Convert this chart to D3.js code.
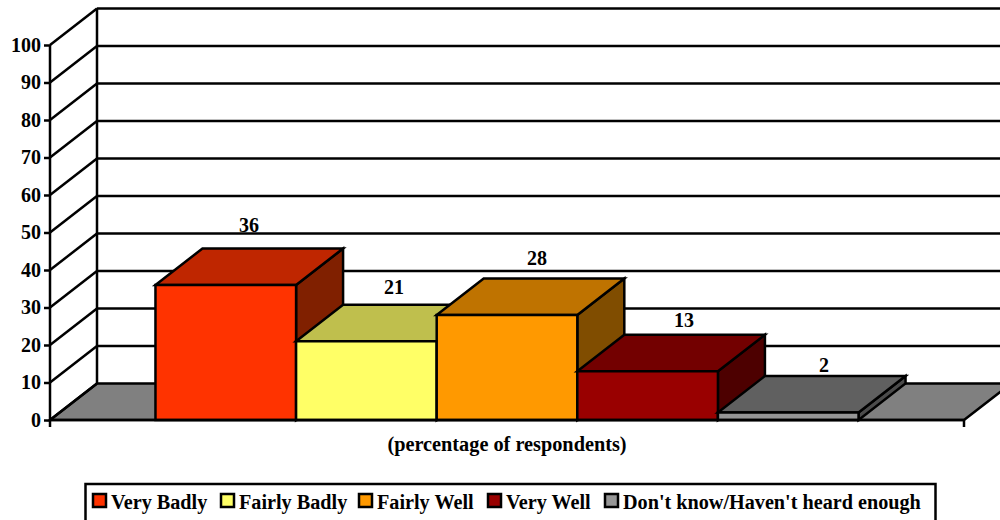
<!DOCTYPE html>
<html>
<head>
<meta charset="utf-8">
<script src="https://cdn.jsdelivr.net/npm/d3@7"></script>
<style>
  html, body { margin: 0; padding: 0; background: #fff; overflow: hidden; }
  svg { display: block; }
  text { font-family: "Liberation Serif", serif; font-weight: bold; fill: #000; }
</style>
</head>
<body>
<div id="chart"></div>
<script>
const categories = ["Very Badly", "Fairly Badly", "Fairly Well", "Very Well", "Don't know/Haven't heard enough"];
const values = [36, 21, 28, 13, 2];
const yTicks = [0, 10, 20, 30, 40, 50, 60, 70, 80, 90, 100];
const frontColors = ["#ff3300", "#ffff66", "#ff9900", "#990000", "#969696"];
const topColors = ["#bf2600", "#bfbf4d", "#bf7300", "#730000", "#606060"];
const sideColors = ["#802000", "#808033", "#804d00", "#4d0000", "#4b4b4b"];
const axisTitle = "(percentage of respondents)";

const svg = d3.select("#chart").append("svg").attr("width", 1000).attr("height", 520);

const depthX = 47, depthY = -36.5, lineW = 2.5;
const x = d3.scaleBand().domain(categories).range([50, 964]).paddingInner(0).paddingOuter(0.75);
const y = d3.scaleLinear().domain([0, 100]).range([420, 45]);
// the value labels sit on their own slightly wider grid than the bars
const labelX = d3.scalePoint().domain(categories).range([249, 825]);
const labelNudge = [0, 1, 0, 3, -1];
const labelY = d3.scaleLinear().domain([2, 36]).range([372, 232]);

const poly = pts => pts.map(p => p.join(",")).join(" ");

// floor
svg.append("polygon")
    .attr("points", poly([[x.range()[0], y(0)], [x.range()[0] + depthX, y(0) + depthY],
      [x.range()[1] + depthX, y(0) + depthY], [x.range()[1], y(0)]]))
    .attr("fill", "#808080").attr("stroke", "#000").attr("stroke-width", lineW);

// back wall grid and the slanted lines on the side wall
const grid = svg.append("g").attr("fill", "none").attr("stroke", "#000").attr("stroke-width", lineW);
yTicks.forEach(t => {
  if (t > 0) grid.append("line")
      .attr("x1", x.range()[0] + depthX).attr("x2", x.range()[1] + depthX)
      .attr("y1", y(t) + depthY).attr("y2", y(t) + depthY);
  grid.append("line")
      .attr("x1", x.range()[0]).attr("x2", x.range()[0] + depthX)
      .attr("y1", y(t)).attr("y2", y(t) + depthY);
});
grid.append("line")
    .attr("x1", x.range()[0] + depthX).attr("x2", x.range()[0] + depthX)
    .attr("y1", y(100) + depthY).attr("y2", y(0) + depthY);

// bars, left to right so each one overlaps the side of the previous
const bars = svg.selectAll("g.bar").data(categories).enter().append("g")
    .attr("class", "bar")
    .attr("stroke", "#000").attr("stroke-width", lineW).attr("stroke-linejoin", "miter");

bars.each(function(d, i) {
  const g = d3.select(this);
  const x0 = x(d), x1 = x(d) + x.bandwidth(), yt = y(values[i]), yb = y(0);
  g.append("polygon").attr("fill", sideColors[i])
      .attr("points", poly([[x1, yb], [x1 + depthX, yb + depthY], [x1 + depthX, yt + depthY], [x1, yt]]));
  g.append("polygon").attr("fill", topColors[i])
      .attr("points", poly([[x0, yt], [x0 + depthX, yt + depthY], [x1 + depthX, yt + depthY], [x1, yt]]));
  g.append("rect").attr("fill", frontColors[i])
      .attr("x", x0).attr("y", yt).attr("width", x1 - x0).attr("height", yb - yt);
});

// value labels
svg.selectAll("text.value").data(categories).enter().append("text")
    .attr("class", "value")
    .attr("x", (d, i) => labelX(d) + labelNudge[i])
    .attr("y", (d, i) => labelY(values[i]))
    .attr("text-anchor", "middle")
    .attr("font-size", 20)
    .text((d, i) => values[i]);

// axes
const yAxis = svg.append("g").attr("transform", `translate(${x.range()[0]},0)`)
    .call(d3.axisLeft(y).tickValues(yTicks).tickSize(6).tickPadding(3));
yAxis.selectAll("path, line").attr("stroke", "#000").attr("stroke-width", lineW);
yAxis.select("path").attr("d", `M0,${y(100)}V${y(0)}`);
yAxis.selectAll("text").attr("font-size", 20).attr("font-family", null);

svg.append("g").attr("stroke", "#000").attr("stroke-width", lineW)
    .call(g => g.append("line").attr("x1", x.range()[0]).attr("x2", x.range()[1]).attr("y1", y(0)).attr("y2", y(0)))
    .call(g => g.selectAll("line.tick").data(x.range()).enter().append("line")
      .attr("class", "tick").attr("x1", d => d).attr("x2", d => d).attr("y1", y(0)).attr("y2", y(0) + 7));

svg.append("text")
    .attr("x", 507).attr("y", 451)
    .attr("text-anchor", "middle").attr("font-size", 20.3)
    .text(axisTitle);

// legend, runs off the bottom of the picture
svg.append("rect").attr("x", 85.5).attr("y", 484).attr("width", 850).attr("height", 50)
    .attr("fill", "#fff").attr("stroke", "#000").attr("stroke-width", lineW);

const legendX = [92, 220, 358, 487, 604];
const legend = svg.selectAll("g.legend").data(categories).enter().append("g")
    .attr("class", "legend")
    .attr("transform", (d, i) => `translate(${legendX[i]},0)`);
legend.append("rect")
    .attr("x", 1).attr("y", 494).attr("width", 13).attr("height", 13)
    .attr("fill", (d, i) => frontColors[i])
    .attr("stroke", "#000").attr("stroke-width", lineW);
legend.append("text")
    .attr("x", 19).attr("y", 509)
    .attr("font-size", 20.2)
    .text(d => d);
</script>
</body>
</html>
